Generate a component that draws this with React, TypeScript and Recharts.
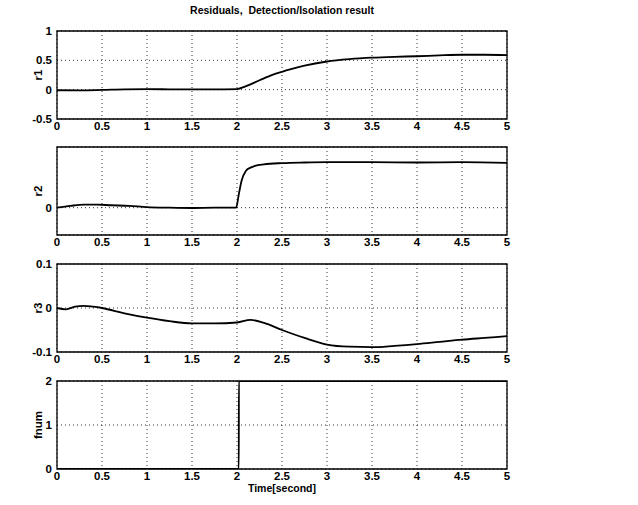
import React from "react";
import {
  LineChart,
  Line,
  XAxis,
  YAxis,
  CartesianGrid,
  ReferenceArea,
} from "recharts";

// time ticks shared by all four panels
const timeTicks = [0, 0.5, 1, 1.5, 2, 2.5, 3, 3.5, 4, 4.5, 5];

// r1 residual
const r1Time = [0, 0.25, 0.5, 0.75, 1, 1.25, 1.5, 1.75, 2, 2.1, 2.25, 2.4, 2.5, 2.6, 2.75, 3, 3.25, 3.5, 3.75, 4, 4.25, 4.5, 4.75, 5];
const r1Values = [-0.01, -0.012, -0.005, 0.005, 0.008, 0.006, 0.004, 0.006, 0.01, 0.06, 0.16, 0.255, 0.305, 0.35, 0.41, 0.48, 0.52, 0.545, 0.56, 0.57, 0.585, 0.595, 0.595, 0.59];
const r1Ticks = [-0.5, 0, 0.5, 1];

// r2 residual
const r2Time = [0, 0.15, 0.3, 0.45, 0.6, 0.8, 1, 1.25, 1.5, 1.75, 1.99, 2.02, 2.05, 2.1, 2.15, 2.2, 2.3, 2.5, 2.75, 3, 3.5, 4, 4.5, 5];
const r2Values = [0, 0.03, 0.05, 0.05, 0.04, 0.03, 0.01, 0.0, -0.005, 0.0, 0.0, 0.22, 0.44, 0.61, 0.66, 0.69, 0.715, 0.735, 0.745, 0.75, 0.75, 0.745, 0.75, 0.74];
const r2Ticks = [0];

// r3 residual
const r3Time = [0, 0.1, 0.2, 0.3, 0.4, 0.5, 0.75, 1, 1.25, 1.5, 1.75, 2, 2.15, 2.3, 2.5, 2.75, 3, 3.25, 3.5, 3.75, 4, 4.25, 4.5, 4.75, 5];
const r3Values = [0, -0.003, 0.003, 0.005, 0.003, 0, -0.012, -0.022, -0.03, -0.035, -0.035, -0.033, -0.027, -0.034, -0.05, -0.068, -0.083, -0.088, -0.089, -0.086, -0.082, -0.077, -0.072, -0.068, -0.064];
const r3Ticks = [-0.1, 0, 0.1];

// fault number
const fnumTime = [0, 0.5, 1, 1.5, 2, 2.02, 2.021, 2.5, 3, 3.5, 4, 4.5, 5];
const fnumValues = [0, 0, 0, 0, 0, 0, 2, 2, 2, 2, 2, 2, 2];
const fnumTicks = [0, 1, 2];

const W = 638;
const LEFT = 57;
const RIGHT = 507;
const PLOT_H = 88;
const TOP_M = 5;
const XAX_H = 17;
const font = "'Liberation Sans', Arial, sans-serif";

const toRows = (t: number[], v: number[]) => t.map((x, i) => ({ t: x, v: v[i] }));

type PanelProps = {
  top: number;
  name: string;
  time: number[];
  values: number[];
  yTicks: number[];
  yDomain: [number, number];
};

const Panel = ({ top, name, time, values, yTicks, yDomain }: PanelProps) => {
  const tickStyle = { fontSize: 11.5, fill: "#000", fontFamily: font, fontWeight: 700 };
  return (
    <div style={{ position: "absolute", left: 0, top: top - TOP_M }}>
      <LineChart
        width={W}
        height={PLOT_H + TOP_M + XAX_H}
        data={toRows(time, values)}
        margin={{ top: TOP_M, right: W - RIGHT, left: 0, bottom: 0 }}
      >
        <CartesianGrid stroke="#000" strokeDasharray="1 3" strokeWidth={0.8} />
        <XAxis
          dataKey="t"
          type="number"
          domain={[0, 5]}
          ticks={timeTicks}
          height={XAX_H}
          tickSize={2}
          tickMargin={1}
          tickLine={false}
          axisLine={false}
          tick={tickStyle}
          interval={0}
        />
        <YAxis
          type="number"
          domain={yDomain}
          ticks={yTicks}
          width={LEFT}
          tickSize={3}
          tickMargin={2}
          tickLine={false}
          axisLine={false}
          tick={tickStyle}
          interval={0}
          allowDataOverflow
        />
        <Line
          dataKey="v"
          type="monotone"
          stroke="#000"
          strokeWidth={1.8}
          dot={false}
          isAnimationActive={false}
        />
        <ReferenceArea
          x1={0}
          x2={5}
          y1={yDomain[0]}
          y2={yDomain[1]}
          fill="none"
          stroke="#000"
          strokeWidth={1.3}
        />
      </LineChart>
      <div
        style={{
          position: "absolute",
          left: 38 - 20,
          top: TOP_M + PLOT_H / 2 - 7,
          width: 40,
          textAlign: "center",
          transform: "rotate(-90deg)",
          fontFamily: font,
          fontSize: 11.5,
          fontWeight: 700,
          lineHeight: "14px",
        }}
      >
        {name}
      </div>
    </div>
  );
};

export default function App() {
  return (
    <div style={{ position: "relative", width: W, height: 505, background: "#fff" }}>
      <style>{`body{margin:0}`}</style>
      <div
        style={{
          position: "absolute",
          left: LEFT,
          width: RIGHT - LEFT,
          top: 4,
          textAlign: "center",
          fontFamily: font,
          fontSize: 10.5,
          fontWeight: 700,
        }}
      >
        Residuals,&nbsp; Detection/Isolation result
      </div>
      <Panel top={31} name="r1" time={r1Time} values={r1Values} yTicks={r1Ticks} yDomain={[-0.5, 1]} />
      <Panel top={147} name="r2" time={r2Time} values={r2Values} yTicks={r2Ticks} yDomain={[-0.45, 1]} />
      <Panel top={264} name="r3" time={r3Time} values={r3Values} yTicks={r3Ticks} yDomain={[-0.1, 0.1]} />
      <Panel top={381} name="fnum" time={fnumTime} values={fnumValues} yTicks={fnumTicks} yDomain={[0, 2]} />
      <div
        style={{
          position: "absolute",
          left: LEFT,
          width: RIGHT - LEFT,
          top: 482,
          textAlign: "center",
          fontFamily: font,
          fontSize: 10.5,
          fontWeight: 700,
        }}
      >
        Time[second]
      </div>
    </div>
  );
}
